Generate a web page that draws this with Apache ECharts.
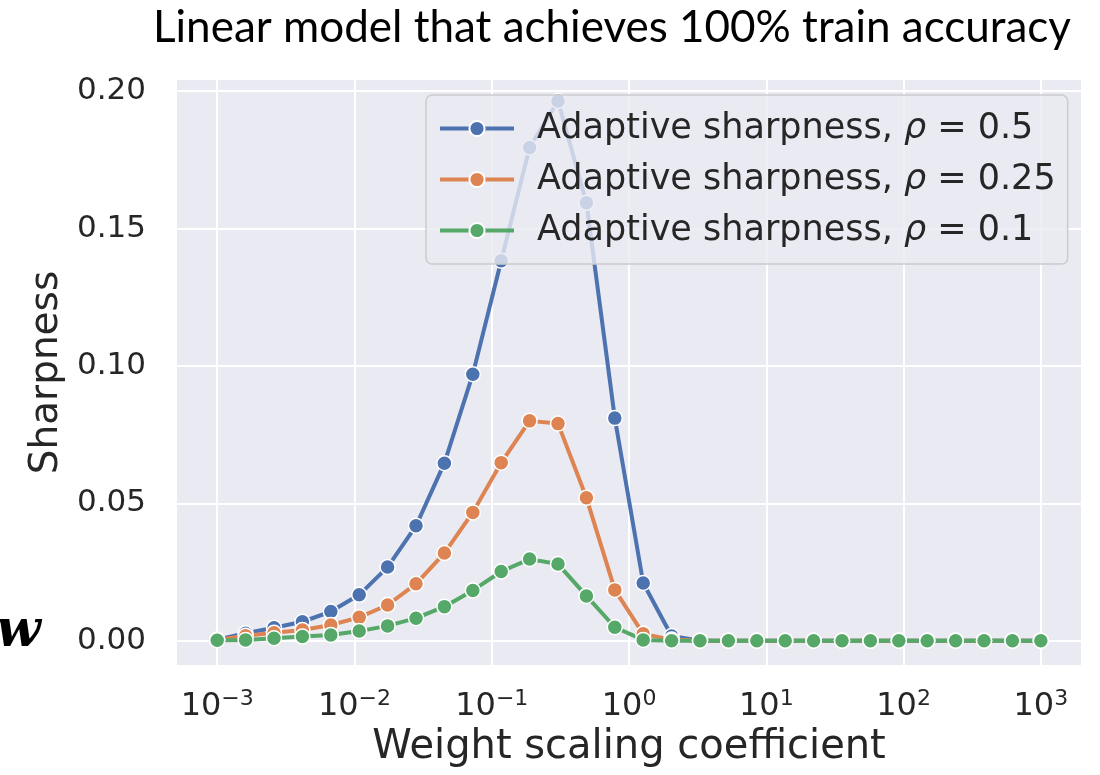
<!DOCTYPE html>
<html>
<head>
<meta charset="utf-8">
<title>Sharpness vs weight scaling</title>
<script src="https://cdn.jsdelivr.net/npm/echarts@6/dist/echarts.min.js"></script>
<style>
html, body { margin: 0; padding: 0; background: #fff; }
#chart { width: 1100px; height: 775px; }
</style>
</head>
<body>
<div id="chart"></div>
<script>
// weight scaling coefficients (30 points, log spaced 1e-3 .. 1e3)
var scales = [0.001, 0.00161, 0.002593, 0.004175, 0.006723, 0.01083, 0.01743, 0.02807, 0.0452, 0.07279,
              0.1172, 0.1887, 0.3039, 0.4894, 0.788, 1.269, 2.043, 3.29, 5.298, 8.532,
              13.74, 22.12, 35.62, 57.36, 92.37, 148.7, 239.5, 385.7, 621.0, 1000];

var sharpRho05  = [0.0004, 0.0027, 0.0047, 0.0069, 0.0106, 0.0167, 0.0268, 0.0418, 0.0646, 0.0970,
                   0.1383, 0.1795, 0.1964, 0.1594, 0.0810, 0.0210, 0.0017, 0, 0, 0,
                   0, 0, 0, 0, 0, 0, 0, 0, 0, 0];
var sharpRho025 = [0.0003, 0.0018, 0.0029, 0.0039, 0.0057, 0.0085, 0.0130, 0.0207, 0.0319, 0.0467,
                   0.0648, 0.0800, 0.0790, 0.0520, 0.0185, 0.0025, 0.0004, 0, 0, 0,
                   0, 0, 0, 0, 0, 0, 0, 0, 0, 0];
var sharpRho01  = [0.0002, 0.0003, 0.0009, 0.0015, 0.0021, 0.0035, 0.0054, 0.0082, 0.0124, 0.0183,
                   0.0252, 0.0297, 0.0279, 0.0163, 0.0049, 0.0003, 0, 0, 0, 0,
                   0, 0, 0, 0, 0, 0, 0, 0, 0, 0];

var seriesNames = ['rho05', 'rho025', 'rho01'];
var rhoLabels = ['0.5', '0.25', '0.1'];
var colors = ['#4C72B0', '#DD8452', '#55A868'];

var FONT = 'DejaVu Sans';

function pairs(ys) {
	var out = [];
	ys.forEach(function(y, i) {
		out.push([scales[i], y]);
	});
	return out;
}

var myChart = echarts.init(document.getElementById('chart'));

var allData = [sharpRho05, sharpRho025, sharpRho01];
var series = [];
allData.forEach(function(ys, k) {
	series.push({
		name: seriesNames[k],
		type: 'line',
		data: pairs(ys),
		symbol: 'circle',
		symbolSize: 15,
		color: colors[k],
		lineStyle: { width: 4, color: colors[k] },
		itemStyle: { color: colors[k], borderColor: '#ffffff', borderWidth: 1.5 },
		emphasis: { disabled: true },
		animation: false
	});
});

var option = {
	backgroundColor: '#ffffff',
	animation: false,
	title: {
		text: 'Linear model that achieves 100% train accuracy',
		left: 612,
		top: 6,
		textAlign: 'center',
		padding: 0,
		textStyle: { fontFamily: 'Lato', fontWeight: 'normal', fontSize: 44, color: '#000000' }
	},
	grid: {
		left: 176, right: 18, top: 79, bottom: 109,
		show: true, backgroundColor: '#EAEAF2', borderWidth: 0
	},
	legend: {
		orient: 'vertical',
		left: 426,
		top: 95,
		padding: [16, 12, 16, 12],
		itemWidth: 74,
		itemHeight: 19,
		itemGap: 16,
		backgroundColor: 'rgba(234,234,242,0.8)',
		borderColor: '#cccccc',
		borderWidth: 1.5,
		borderRadius: 6,
		lineStyle: { width: 4 },
		data: seriesNames,
		formatter: function(name) {
			var k = seriesNames.indexOf(name);
			return '{n|Adaptive sharpness, }{r|\u03c1}{n| = ' + rhoLabels[k] + '}';
		},
		textStyle: {
			padding: [0, 0, 0, 18],
			rich: {
				n: { fontFamily: FONT, fontSize: 35, color: '#262626', lineHeight: 40 },
				r: { fontFamily: FONT, fontSize: 35, fontStyle: 'italic', color: '#262626', lineHeight: 40 }
			}
		}
	},
	xAxis: {
		type: 'log',
		logBase: 10,
		min: 0.000501,
		max: 1995,
		name: 'Weight scaling coefficient',
		nameLocation: 'middle',
		nameGap: 62,
		nameTextStyle: { fontFamily: FONT, fontSize: 40, color: '#262626' },
		axisLine: { show: false },
		axisTick: { show: false },
		splitLine: { show: true, lineStyle: { color: '#ffffff', width: 2 } },
		axisLabel: {
			margin: 22,
			showMinLabel: false,
			showMaxLabel: false,
			formatter: function(v) {
				var lg = Math.log10(v);
				var e = Math.round(lg);
				if (Math.abs(lg - e) > 1e-6) return '';
				return '{b|10}{s|' + (e < 0 ? '\u2212' + (-e) : e) + '}';
			},
			rich: {
				b: { fontFamily: FONT, fontSize: 32, color: '#262626', lineHeight: 38 },
				s: { fontFamily: FONT, fontSize: 22, color: '#262626', lineHeight: 22, verticalAlign: 'top' }
			}
		}
	},
	yAxis: {
		type: 'value',
		min: -0.0092,
		max: 0.2044,
		splitNumber: 5,
		name: 'Sharpness',
		nameLocation: 'middle',
		nameGap: 110,
		nameTextStyle: { fontFamily: FONT, fontSize: 39, color: '#262626' },
		axisLine: { show: false },
		axisTick: { show: false },
		splitLine: { show: true, lineStyle: { color: '#ffffff', width: 2 } },
		axisLabel: {
			margin: 30,
			showMinLabel: false,
			showMaxLabel: false,
			fontFamily: FONT,
			fontSize: 31,
			color: '#262626',
			formatter: function(v) {
				if (Math.abs(v * 20 - Math.round(v * 20)) > 1e-6) return '';
				return v.toFixed(2);
			}
		}
	},
	graphic: [{
		type: 'text',
		left: -4,
		top: 606,
		style: {
			text: 'w',
			fontFamily: 'DejaVu Serif',
			fontWeight: 'bold',
			fontStyle: 'italic',
			fontSize: 52,
			fill: '#000000'
		}
	}],
	series: series
};

myChart.setOption(option);
</script>
</body>
</html>
